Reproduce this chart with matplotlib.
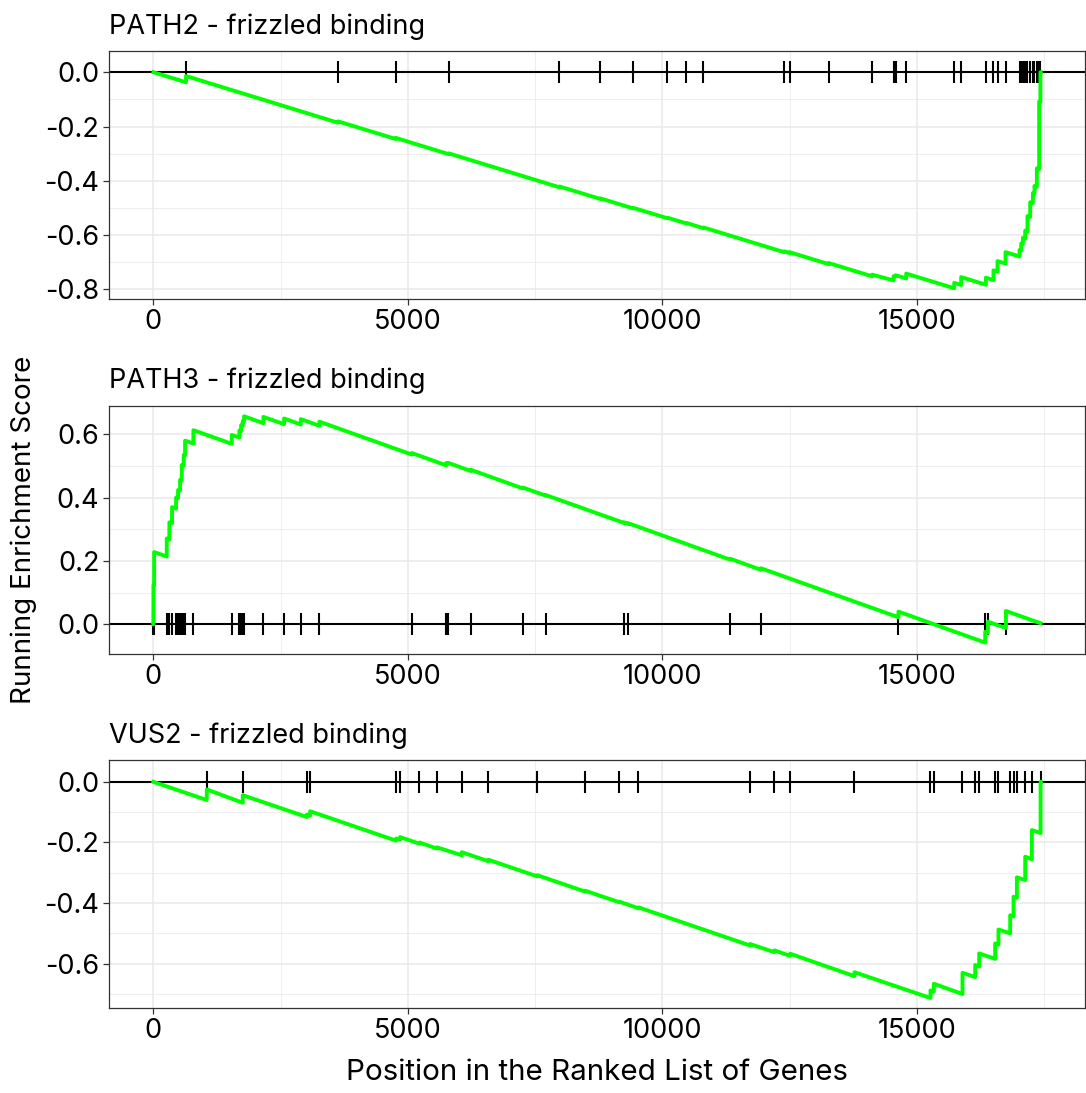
import matplotlib
matplotlib.use('Agg')
import matplotlib.pyplot as plt
from matplotlib.ticker import MultipleLocator

plt.rcParams['font.family'] = ['Inter', 'DejaVu Sans']

n_genes = 17430

# gene set 1: hit positions and running score just before / after each hit
path2_hits = [642, 3627, 4762, 5803, 7977, 8782, 9430, 10098, 10466, 10806,
              12391, 12496, 13262, 14120, 14540, 14580, 14788, 15731, 15868,
              16354, 16503, 16582, 16739, 17014, 17047, 17080, 17126, 17171,
              17224, 17277, 17308, 17355, 17400, 17425]
path2_before = [-0.037, -0.186, -0.246, -0.302, -0.424, -0.467, -0.502, -0.538,
                -0.557, -0.575, -0.663, -0.666, -0.707, -0.752, -0.767, -0.752,
                -0.760, -0.796, -0.784, -0.783, -0.766, -0.734, -0.705, -0.679,
                -0.657, -0.633, -0.613, -0.587, -0.533, -0.482, -0.447, -0.422,
                -0.357, -0.110]
path2_after = [-0.014, -0.181, -0.242, -0.299, -0.421, -0.465, -0.500, -0.536,
               -0.555, -0.572, -0.660, -0.663, -0.703, -0.746, -0.752, -0.748,
               -0.742, -0.776, -0.755, -0.757, -0.730, -0.696, -0.663, -0.655,
               -0.631, -0.610, -0.584, -0.530, -0.479, -0.445, -0.419, -0.354,
               -0.108, 0.0]
path2_end = 0.0

# gene set 2
path3_hits = [1, 15, 263, 314, 367, 446, 485, 525, 558, 597, 623, 786, 1540,
              1690, 1723, 1756, 1782, 2161, 2568, 2896, 3261, 5077, 5751, 5790,
              6236, 7257, 7709, 9247, 9332, 11330, 11933, 14636, 16340, 16393,
              16747]
path3_before = [0.0, 0.123, 0.214, 0.268, 0.319, 0.365, 0.398, 0.422, 0.454,
                0.501, 0.534, 0.571, 0.570, 0.590, 0.610, 0.627, 0.641, 0.635,
                0.632, 0.631, 0.627, 0.536, 0.502, 0.507, 0.484, 0.429, 0.406,
                0.320, 0.317, 0.204, 0.172, 0.022, -0.058, -0.027, -0.012]
path3_after = [0.124, 0.228, 0.271, 0.322, 0.370, 0.400, 0.424, 0.456, 0.503,
               0.535, 0.580, 0.613, 0.598, 0.612, 0.629, 0.642, 0.657, 0.655,
               0.650, 0.648, 0.640, 0.541, 0.509, 0.510, 0.488, 0.432, 0.408,
               0.322, 0.319, 0.207, 0.177, 0.040, -0.024, 0.008, 0.042]
path3_end = 0.003

# gene set 3
vus2_hits = [1049, 1756, 3014, 3079, 4768, 4846, 5226, 5568, 6059, 6582, 7544,
             8481, 9149, 9529, 11723, 12200, 12508, 13772, 15265, 15331, 15894,
             16143, 16222, 16536, 16601, 16831, 16897, 16963, 17126, 17257, 17428]
vus2_before = [-0.060, -0.069, -0.116, -0.112, -0.194, -0.191, -0.204, -0.220,
               -0.242, -0.262, -0.312, -0.362, -0.397, -0.417, -0.540, -0.562,
               -0.574, -0.641, -0.713, -0.692, -0.700, -0.644, -0.609, -0.584,
               -0.537, -0.500, -0.444, -0.383, -0.324, -0.255, -0.169]
vus2_after = [-0.025, -0.044, -0.108, -0.097, -0.187, -0.182, -0.200, -0.216,
              -0.232, -0.257, -0.308, -0.359, -0.395, -0.414, -0.535, -0.556,
              -0.567, -0.628, -0.688, -0.666, -0.630, -0.604, -0.566, -0.533,
              -0.487, -0.440, -0.379, -0.315, -0.247, -0.159, 0.0]
vus2_end = 0.0

titles = ['PATH2 - frizzled binding', 'PATH3 - frizzled binding', 'VUS2 - frizzled binding']
x_ticks = [0, 5000, 10000, 15000]

panels = [
    (titles[0], path2_hits, path2_before, path2_after, path2_end,
     [0.0, -0.2, -0.4, -0.6, -0.8], (-0.8358, 0.0785), 0.7264),
    (titles[1], path3_hits, path3_before, path3_after, path3_end,
     [0.0, 0.2, 0.4, 0.6], (-0.0938, 0.690), 0.4017),
    (titles[2], vus2_hits, vus2_before, vus2_after, vus2_end,
     [0.0, -0.2, -0.4, -0.6], (-0.747, 0.0715), 0.0775),
]

fig = plt.figure(figsize=(10.86, 10.93), dpi=100)

for title, hits, before, after, end, yticks, ylim, bottom in panels:
    ax = fig.add_axes([0.1004, bottom, 0.8987, 0.2270])

    # running score as a step path: drop until each hit, then jump
    xs = [0]
    ys = [0.0]
    for h, b, a in zip(hits, before, after):
        xs += [h, h]
        ys += [b, a]
    xs.append(n_genes)
    ys.append(end)

    ax.axhline(0, color='black', lw=1.5, zorder=2)
    ax.plot(hits, [0] * len(hits), ls='none', marker='|', ms=15.5,
            mew=1.5, color='black', zorder=3)
    ax.plot(xs, ys, color='#00FF00', lw=2.8, zorder=4)

    ax.set_xlim(-871, 18301)
    ax.set_ylim(*ylim)
    ax.set_xticks(x_ticks)
    ax.set_xticklabels([str(v) for v in x_ticks])
    ax.xaxis.set_minor_locator(MultipleLocator(2500))
    ax.set_yticks(yticks)
    ax.set_yticklabels(['%.1f' % v for v in yticks])
    ax.yaxis.set_minor_locator(MultipleLocator(0.1))

    ax.grid(True, which='major', color='#EBEBEB', lw=1.2, zorder=0)
    ax.grid(True, which='minor', color='#EBEBEB', lw=0.6, zorder=0)
    ax.set_axisbelow(True)
    ax.tick_params(which='major', length=4, width=0.9, color='#333333',
                   labelsize=19.5, labelcolor='black', pad=3)
    ax.tick_params(which='minor', length=0)
    for s in ax.spines.values():
        s.set_color('#333333')
        s.set_linewidth(0.9)

    ax.set_title(title, loc='left', fontsize=19.5, pad=12.5)

fig.text(0.5497, 1 - 1080 / 1093, 'Position in the Ranked List of Genes',
         ha='center', va='baseline', fontsize=21.3)
fig.text(0.0215, 0.515, 'Running Enrichment Score', rotation=90,
         ha='center', va='center', fontsize=20)

fig.savefig('out.png', dpi=100)
